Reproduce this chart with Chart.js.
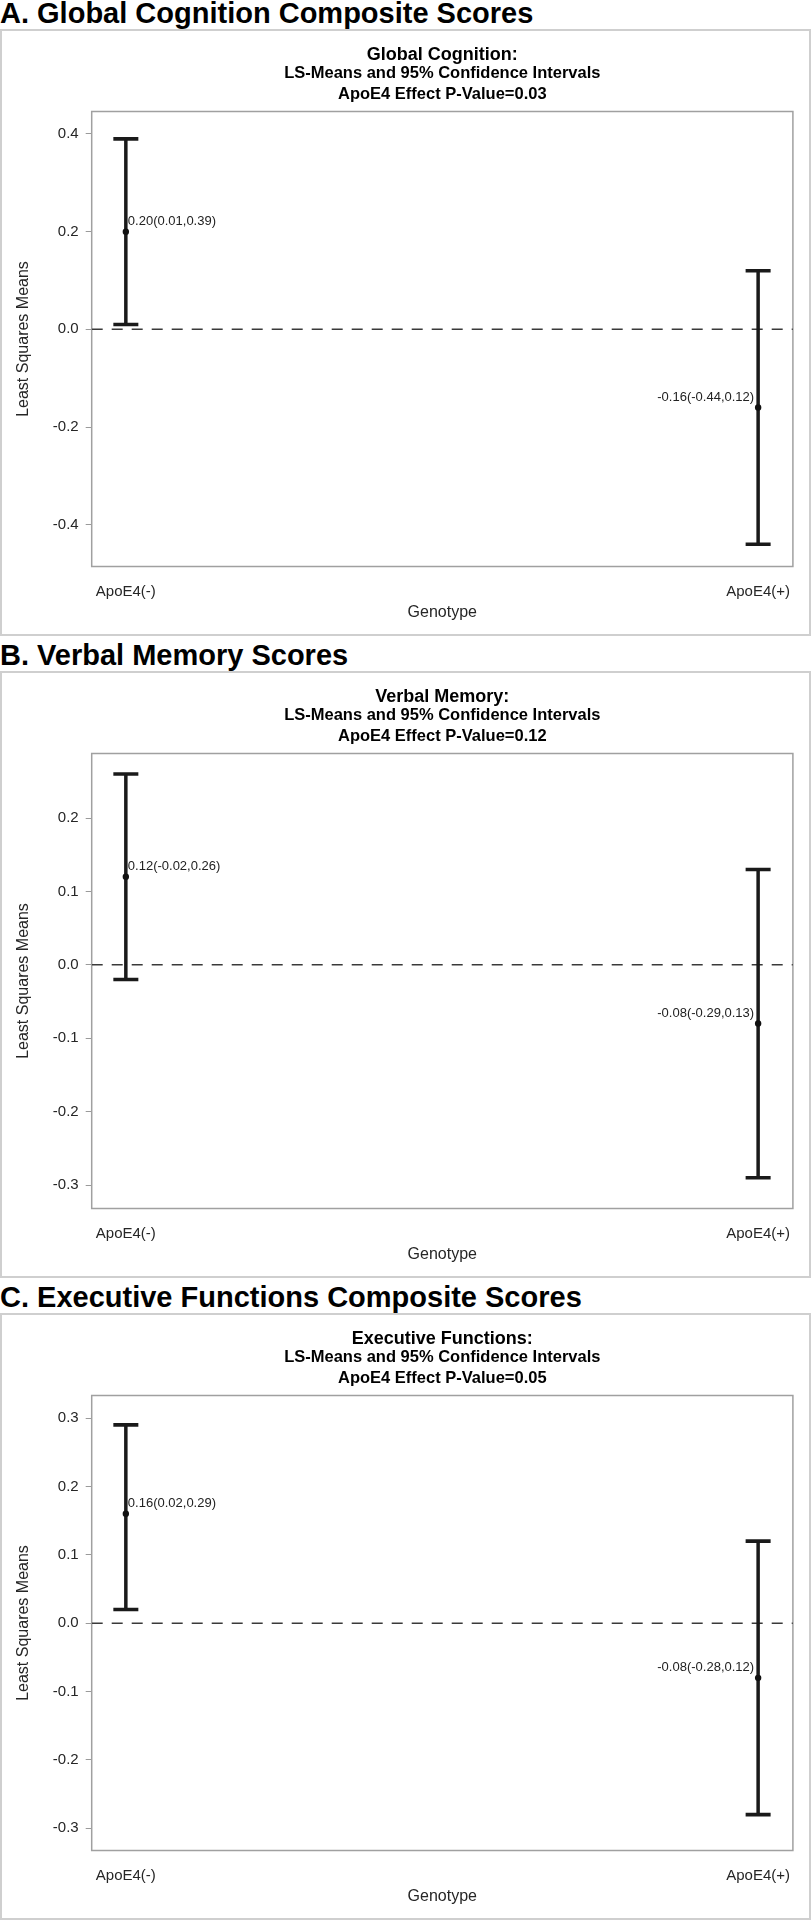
<!DOCTYPE html>
<html>
<head>
<meta charset="utf-8">
<title>ApoE4 LS-Means</title>
<script src="https://cdn.jsdelivr.net/npm/chart.js@4.4.1/dist/chart.umd.min.js"></script>
<style>
  body { margin: 0; background: #fff; font-family: "Liberation Sans", Arial, sans-serif; }
  .panel { position: absolute; left: 0; width: 811px; height: 636px; }
  .panel h2 { position: absolute; left: 0; top: -1.5px; margin: 0; font-size: 29px; line-height: 29px; font-weight: bold; color: #000; white-space: nowrap; }
  .box { position: absolute; left: 0; top: 29px; width: 807px; height: 603px; border: 2px solid #cfcfcf; }
  .box canvas { display: block; }
</style>
</head>
<body>

<div class="panel" style="top:0px">
  <h2>A. Global Cognition Composite Scores</h2>
  <div class="box"><canvas id="chartGlobal" width="807" height="603"></canvas></div>
</div>
<div class="panel" style="top:642px">
  <h2>B. Verbal Memory Scores</h2>
  <div class="box"><canvas id="chartVerbal" width="807" height="603"></canvas></div>
</div>
<div class="panel" style="top:1284px">
  <h2>C. Executive Functions Composite Scores</h2>
  <div class="box"><canvas id="chartExec" width="807" height="603"></canvas></div>
</div>

<script>
// ---- data ----
const categories = ['ApoE4(-)', 'ApoE4(+)'];

const globalMeans = [0.20, -0.16];
const globalLower = [0.01, -0.44];
const globalUpper = [0.39, 0.12];
const globalTicks = [-0.4, -0.2, 0.0, 0.2, 0.4];
const globalRange = [-0.4855, 0.446];

const verbalMeans = [0.12, -0.08];
const verbalLower = [-0.02, -0.29];
const verbalUpper = [0.26, 0.13];
const verbalTicks = [-0.3, -0.2, -0.1, 0.0, 0.1, 0.2];
const verbalRange = [-0.332, 0.288];

const execMeans = [0.16, -0.08];
const execLower = [0.02, -0.28];
const execUpper = [0.29, 0.12];
const execTicks = [-0.3, -0.2, -0.1, 0.0, 0.1, 0.2, 0.3];
const execRange = [-0.3325, 0.333];

const FONT = '"Liberation Sans", Arial, sans-serif';
const INK = '#1a1a1a';
const X_MIN = -0.054, X_MAX = 1.055;

// ---- helpers ----
const framePlugin = {
  id: 'frame',
  beforeDatasetsDraw(chart) {
    const { ctx, chartArea: a } = chart;
    ctx.save();
    ctx.strokeStyle = '#a0a0a0';
    ctx.lineWidth = 1.5;
    ctx.strokeRect(a.left, a.top, a.right - a.left, a.bottom - a.top);
    ctx.restore();
  }
};

function drawPanel(id, title, pValue, means, lower, upper, ticks, range) {
  // label "mean(lower,upper)" next to each point
  const ciLabels = {
    id: 'ciLabels',
    afterDatasetsDraw(chart) {
      const { ctx } = chart;
      const meta = chart.getDatasetMeta(0);
      ctx.save();
      ctx.font = '13px ' + FONT;
      ctx.fillStyle = '#222';
      ctx.textBaseline = 'alphabetic';
      meta.data.forEach((pt, i) => {
        const txt = means[i].toFixed(2) + '(' + lower[i].toFixed(2) + ',' + upper[i].toFixed(2) + ')';
        ctx.textAlign = i === 0 ? 'left' : 'right';
        ctx.fillText(txt, i === 0 ? pt.x + 2 : pt.x - 4, pt.y - 7);
      });
      ctx.restore();
    }
  };

  const whiskers = means.map((m, i) => ({
    type: 'line',
    data: [{ x: i, y: lower[i] }, { x: i, y: upper[i] }],
    borderColor: INK,
    borderWidth: 3.5,
    pointStyle: 'line',
    pointRadius: 12.5,
    pointBorderColor: INK,
    pointBorderWidth: 3.6
  }));

  new Chart(document.getElementById(id), {
    type: 'scatter',
    data: {
      datasets: [
        {
          data: means.map((m, i) => ({ x: i, y: m })),
          pointRadius: 3.2,
          backgroundColor: '#111',
          borderColor: '#111',
          borderWidth: 0
        },
        ...whiskers,
        {
          type: 'line',
          data: [{ x: X_MIN, y: 0 }, { x: X_MAX, y: 0 }],
          borderColor: '#3a3a3a',
          borderWidth: 1.5,
          borderDash: [11, 9],
          pointRadius: 0
        }
      ]
    },
    options: {
      responsive: false,
      animation: false,
      events: [],
      layout: { padding: { left: 0, right: 12.3, top: 0, bottom: 0 } },
      plugins: {
        legend: { display: false },
        tooltip: { enabled: false },
        title: {
          display: true, text: title, fullSize: false, color: '#000',
          font: { family: FONT, size: 18, weight: 'bold', lineHeight: '16px' },
          padding: { top: 16.5, bottom: 0 }
        },
        subtitle: {
          display: true, fullSize: false, color: '#000',
          text: ['LS-Means and 95% Confidence Intervals', 'ApoE4 Effect P-Value=' + pValue],
          font: { family: FONT, size: 16.5, weight: 'bold', lineHeight: '20.5px' },
          padding: { top: 0, bottom: 7 }
        }
      },
      scales: {
        x: {
          type: 'linear', min: X_MIN, max: X_MAX,
          afterBuildTicks: s => { s.ticks = categories.map((c, i) => ({ value: i })); },
          afterFit: s => { s.height = 67.5; },
          grid: { display: false },
          border: { display: false },
          ticks: {
            callback: v => categories[v],
            font: { family: FONT, size: 15 }, color: '#262626',
            padding: 8.5, maxRotation: 0, autoSkip: false
          },
          title: {
            display: true, text: 'Genotype', color: '#262626',
            font: { family: FONT, size: 16 },
            padding: { top: 0, bottom: 11.4 }
          }
        },
        y: {
          min: range[0], max: range[1],
          afterBuildTicks: s => { s.ticks = ticks.map(v => ({ value: v })); },
          afterFit: s => { s.width = 89.7; },
          grid: { drawOnChartArea: false, drawTicks: true, tickLength: 6, color: '#9a9a9a', lineWidth: 1 },
          border: { display: false },
          ticks: {
            callback: v => v.toFixed(1),
            font: { family: FONT, size: 15 }, color: '#262626',
            padding: 7
          },
          title: {
            display: true, text: 'Least Squares Means', color: '#262626',
            font: { family: FONT, size: 16 },
            padding: { top: 12, bottom: 0 }
          }
        }
      }
    },
    plugins: [framePlugin, ciLabels]
  });
}

drawPanel('chartGlobal', 'Global Cognition:', '0.03', globalMeans, globalLower, globalUpper, globalTicks, globalRange);
drawPanel('chartVerbal', 'Verbal Memory:', '0.12', verbalMeans, verbalLower, verbalUpper, verbalTicks, verbalRange);
drawPanel('chartExec', 'Executive Functions:', '0.05', execMeans, execLower, execUpper, execTicks, execRange);
</script>
</body>
</html>
